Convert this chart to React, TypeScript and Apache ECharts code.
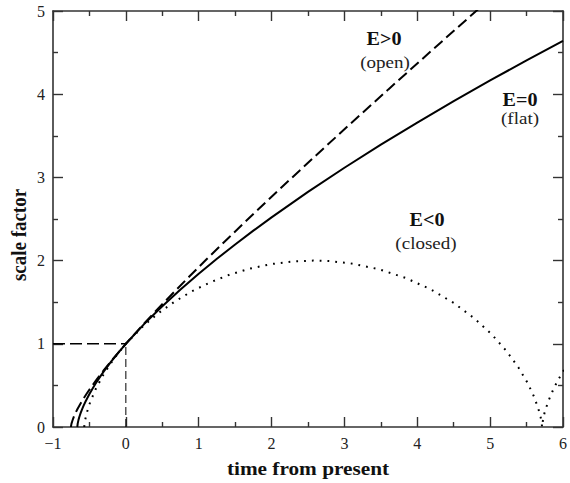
import React, { useEffect, useRef } from "react";
import * as echarts from "echarts";

// Flat universe (E=0), solid line
const flatT = [-0.6667, -0.66, -0.65, -0.64, -0.63, -0.62, -0.6, -0.58, -0.55, -0.5, -0.45, -0.4, -0.35, -0.3, -0.2, -0.1, 0, 0.25, 0.5, 0.75, 1, 1.25, 1.5, 1.75, 2, 2.5, 3, 3.5, 4, 4.5, 5, 5.5, 6];
const flatA = [0, 0.0464, 0.0855, 0.117, 0.1446, 0.17, 0.2154, 0.2566, 0.313, 0.397, 0.4727, 0.543, 0.6088, 0.671, 0.788, 0.897, 1, 1.237, 1.452, 1.653, 1.842, 2.022, 2.194, 2.36, 2.52, 2.826, 3.116, 3.393, 3.659, 3.916, 4.165, 4.407, 4.642];

// Open universe (E>0), dashed line
const openT = [-0.7533, -0.7524, -0.75, -0.746, -0.738, -0.727, -0.712, -0.691, -0.664, -0.629, -0.587, -0.534, -0.472, -0.397, -0.308, -0.205, 0, 0.214, 0.397, 0.606, 0.843, 1.111, 1.415, 1.757, 2.142, 2.575, 3.059, 3.603, 4.209, 4.808, 5.255];
const openA = [0, 0.01, 0.0227, 0.0405, 0.0638, 0.0927, 0.1276, 0.1687, 0.2166, 0.2715, 0.3343, 0.4053, 0.4854, 0.5755, 0.6762, 0.7888, 1, 1.2088, 1.3811, 1.5722, 1.784, 2.0186, 2.2785, 2.5661, 2.8845, 3.2367, 3.6264, 4.0579, 4.5338, 5, 5.3447];

// Closed universe (E<0), dotted line
const closedT = [-0.5708, -0.5695, -0.56, -0.535, -0.488, -0.412, -0.303, -0.156, 0, 0.255, 0.45, 0.666, 0.901, 1.154, 1.422, 1.702, 1.992, 2.288, 2.571, 2.787, 3.085, 3.472, 3.841, 4.186, 4.501, 4.781, 5.023, 5.225, 5.388, 5.513, 5.602, 5.66, 5.694, 5.709, 5.712, 5.7137, 5.733, 5.748, 5.795, 5.871, 5.921, 5.98, 6.049];
const closedA = [0, 0.0199, 0.0789, 0.1747, 0.3033, 0.4597, 0.6376, 0.83, 1, 1.2272, 1.3702, 1.5048, 1.6282, 1.7374, 1.8301, 1.9041, 1.9578, 1.99, 2, 1.9942, 1.9668, 1.8968, 1.791, 1.6536, 1.4903, 1.3073, 1.1122, 0.9125, 0.7163, 0.5315, 0.3654, 0.2244, 0.1146, 0.0398, 0, 0.0199, 0.1224, 0.1747, 0.3033, 0.4597, 0.5464, 0.6376, 0.7325];

// Present-day guide lines
const guideH = [[-1, 1], [0, 1]];
const guideV = [[0, 0], [0, 1]];

const xTicks = { min: -1, max: 6, interval: 1 };
const yTicks = { min: 0, max: 5, interval: 1 };

const zip = (xs: number[], ys: number[]) => xs.map((x, i) => [x, ys[i]]);

const AXIS_COLOR = "#333";
const FONT = "'Liberation Serif', 'Times New Roman', serif";

export default function App() {
  const ref = useRef<HTMLDivElement>(null);
  useEffect(() => {
    if (!ref.current) return;
    const chart = echarts.init(ref.current, undefined, { renderer: "svg" });
    const fmt = (v: number) => (v < 0 ? "\u2212" + Math.abs(v) : String(v));
    const axisCommon = {
      axisLine: { show: true, onZero: false, lineStyle: { color: AXIS_COLOR, width: 1.6 } },
      axisTick: { show: true, inside: true, length: 10, lineStyle: { color: AXIS_COLOR, width: 1.4 } },
      minorTick: { show: true, splitNumber: 2, length: 5, lineStyle: { color: AXIS_COLOR, width: 1.4 } },
      splitLine: { show: false },
      minorSplitLine: { show: false },
    };
    const labelStyle = { color: "#222", fontFamily: FONT, fontSize: 16, margin: 8, formatter: fmt };
    const boldText = (x: number, y: number, text: string, size: number, rot = 0, sx = 1.12) => ({
      type: "text",
      x,
      y,
      rotation: rot,
      scaleX: rot ? 1 : sx,
      scaleY: rot ? sx : 1,
      style: {
        text,
        fontFamily: FONT,
        fontWeight: "bold",
        fontSize: size,
        fill: "#111",
        textAlign: "center",
        textVerticalAlign: "middle",
      },
    });
    const normText = (x: number, y: number, text: string, size: number) => ({
      type: "text",
      x,
      y,
      scaleX: 1.12,
      style: {
        text,
        fontFamily: FONT,
        fontSize: size,
        fill: "#222",
        textAlign: "center",
        textVerticalAlign: "middle",
      },
    });
    const curve = (data: number[][], type: any, width = 2) => ({
      type: "line",
      data,
      showSymbol: false,
      smooth: false,
      clip: true,
      lineStyle: { color: "#000", width, type },
    });
    chart.setOption({
      animation: false,
      backgroundColor: "#fff",
      grid: { left: 53, right: 1, top: 11, bottom: 56, containLabel: false },
      xAxis: [
        { type: "value", position: "bottom", ...xTicks, ...axisCommon, axisLabel: labelStyle },
        { type: "value", position: "top", ...xTicks, ...axisCommon, axisLabel: { show: false } },
      ],
      yAxis: [
        { type: "value", position: "left", ...yTicks, ...axisCommon, axisLabel: labelStyle },
        { type: "value", position: "right", ...yTicks, ...axisCommon, axisLabel: { show: false } },
      ],
      series: [
        curve(zip(flatT, flatA), "solid"),
        curve(zip(openT, openA), [11, 5]),
        curve(zip(closedT, closedA), [1.8, 6]),
        curve(guideH, [12, 5], 1.5),
        curve(guideV, [8, 4], 1),
      ],
      graphic: [
        boldText(384, 39, "E>0", 18),
        normText(385, 62, "(open)", 17),
        boldText(520, 100, "E=0", 18),
        normText(520, 118, "(flat)", 17),
        boldText(427, 220, "E<0", 18),
        normText(426, 243, "(closed)", 17),
        boldText(308, 468, "time from present", 19),
        boldText(19, 235, "scale factor", 19, Math.PI / 2),
      ],
    });
    return () => chart.dispose();
  }, []);
  return (
    <div
      ref={ref}
      style={{ position: "fixed", left: 0, top: 0, width: 570, height: 483, background: "#fff" }}
    />
  );
}
